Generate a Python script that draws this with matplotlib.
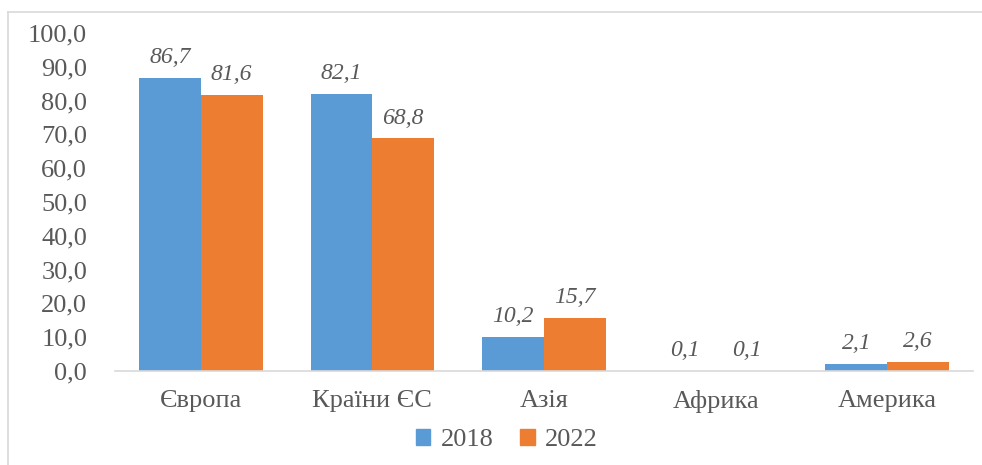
import matplotlib
matplotlib.use("Agg")
import matplotlib.pyplot as plt
import numpy as np
from matplotlib.lines import Line2D
from matplotlib.patches import Patch

categories = ["Європа", "Країни ЄС", "Азія", "Африка", "Америка"]
values_2018 = [86.7, 82.1, 10.2, 0.1, 2.1]
values_2022 = [81.6, 68.8, 15.7, 0.1, 2.6]
series_names = ["2018", "2022"]
yticks = [0, 10, 20, 30, 40, 50, 60, 70, 80, 90, 100]

blue = "#5B9BD5"
orange = "#ED7D31"
gray = "#595959"

plt.rcParams['font.family'] = ['Liberation Serif', 'DejaVu Serif']

fig = plt.figure(figsize=(9.82, 4.65), dpi=100)
ax = fig.add_axes([115/982, 94/465, 858/982, 338/465])

x = np.arange(len(categories))
w = 0.36
b1 = ax.bar(x - w/2, values_2018, w, color=blue, label=series_names[0])
b2 = ax.bar(x + w/2, values_2022, w, color=orange, label=series_names[1])

def fmt(v):
    return f"{v:.1f}".replace(".", ",")

for bars, vals in ((b1, values_2018), (b2, values_2022)):
    for rect, v in zip(bars, vals):
        ax.annotate(fmt(v), (rect.get_x() + rect.get_width()/2, rect.get_height()),
                    xytext=(0, 7), textcoords="offset points", ha="center", va="bottom",
                    fontsize=17, style="italic", color=gray)

ax.set_xlim(-0.5, len(categories) - 0.5)
ax.set_ylim(0, 100)
ax.set_yticks(yticks)
ax.set_yticklabels([fmt(v) for v in yticks], fontsize=19, color=gray)
ax.set_xticks(x)
ax.set_xticklabels(categories, fontsize=19, color=gray)
ax.tick_params(axis="y", length=0, pad=20)
ax.tick_params(axis="x", length=0, pad=14)
for s in ["top", "right", "left"]:
    ax.spines[s].set_visible(False)
ax.spines["bottom"].set_color("#D9D9D9")
ax.spines["bottom"].set_linewidth(1.2)

handles = [Patch(color=blue), Patch(color=orange)]
leg = fig.legend(handles, series_names, loc="center", bbox_to_anchor=(507/982, 1 - 440/465),
                 ncol=2, frameon=False, fontsize=19, handlelength=0.55, handleheight=0.55,
                 handletextpad=0.4, columnspacing=1.0)
for t in leg.get_texts():
    t.set_color(gray)

# chart border (left and top visible)
fig.add_artist(Line2D([8/982, 8/982], [0, 1 - 12/465], transform=fig.transFigure,
                      color="#D9D9D9", linewidth=1.2))
fig.add_artist(Line2D([8/982, 1], [1 - 12/465, 1 - 12/465], transform=fig.transFigure,
                      color="#D9D9D9", linewidth=1.2))

fig.savefig("out.png", dpi=100)
